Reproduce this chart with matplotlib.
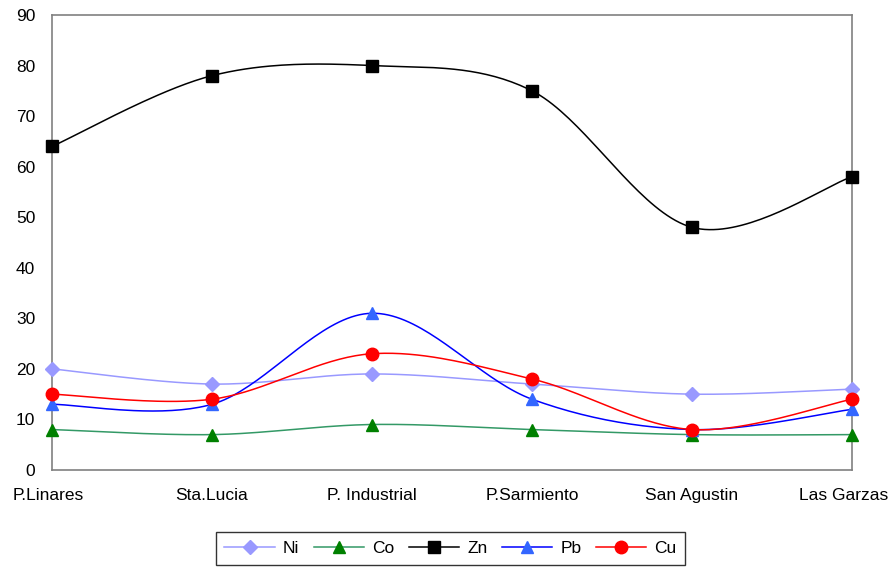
import numpy as np
import matplotlib.pyplot as plt
from matplotlib.transforms import ScaledTranslation

sites = ['P.Linares', 'Sta.Lucia', 'P. Industrial', 'P.Sarmiento', 'San Agustin', 'Las Garzas']
ni = [20, 17, 19, 17, 15, 16]
co = [8, 7, 9, 8, 7, 7]
zn = [64, 78, 80, 75, 48, 58]
pb = [13, 13, 31, 14, 8, 12]
cu = [15, 14, 23, 18, 8, 14]

plt.rcParams['font.family'] = ['Liberation Sans', 'DejaVu Sans']


def smooth(x, y, n=40):
    # excel-like smoothed line: cubic bezier with catmull-rom control points
    x = np.asarray(x, float)
    y = np.asarray(y, float)
    px = np.concatenate([[x[0]], x, [x[-1]]])
    py = np.concatenate([[y[0]], y, [y[-1]]])
    t = np.linspace(0, 1, n)
    xs, ys = [], []
    for i in range(1, len(px) - 2):
        p0 = np.array([px[i], py[i]])
        p3 = np.array([px[i + 1], py[i + 1]])
        c1 = p0 + (p3 - np.array([px[i - 1], py[i - 1]])) / 6
        c2 = p3 - (np.array([px[i + 2], py[i + 2]]) - p0) / 6
        b = ((1 - t) ** 3)[:, None] * p0 + (3 * (1 - t) ** 2 * t)[:, None] * c1 \
            + (3 * (1 - t) * t ** 2)[:, None] * c2 + (t ** 3)[:, None] * p3
        xs.append(b[:, 0])
        ys.append(b[:, 1])
    return np.concatenate(xs), np.concatenate(ys)


fig = plt.figure(figsize=(8.93, 5.67), dpi=100)
ax = fig.add_axes([52 / 893, 97 / 567, 800 / 893, 455 / 567])

x = np.arange(len(sites))
series = [
    ('Ni', ni, '#9999FF', '#9999FF', 'D', 7),
    ('Co', co, '#339966', '#008000', '^', 9),
    ('Zn', zn, '#000000', '#000000', 's', 9),
    ('Pb', pb, '#0000FF', '#3366FF', '^', 9),
    ('Cu', cu, '#FF0000', '#FF0000', 'o', 9),
]
handles = []
for name, vals, lc, mc, mk, ms in series:
    sx, sy = smooth(x, vals)
    ax.plot(sx, sy, color=lc, lw=1.1, clip_on=False)
    ax.plot(x, vals, ls='none', marker=mk, ms=ms, color=mc, clip_on=False, zorder=3)
    h, = ax.plot([], [], color=lc, lw=1.1, marker=mk, ms=ms, markerfacecolor=mc,
                 markeredgecolor=mc, label=name)
    handles.append(h)

ax.set_xlim(0, 5)
ax.set_ylim(0, 90)
ax.set_yticks(range(0, 91, 10))
ax.set_xticks(x)
ax.set_xticklabels(sites)
ax.tick_params(length=0, labelsize=12.5)
ax.tick_params(axis='y', pad=12)
ax.tick_params(axis='x', pad=13)
for s in ax.spines.values():
    s.set_color('#808080')
    s.set_linewidth(1.2)

# keep the last category label inside the figure like excel does
last = ax.get_xticklabels()[-1]
last.set_transform(last.get_transform() + ScaledTranslation(-8 / 100, 0, fig.dpi_scale_trans))
first = ax.get_xticklabels()[0]
first.set_transform(first.get_transform() + ScaledTranslation(-4 / 100, 0, fig.dpi_scale_trans))

leg = fig.legend(handles=handles, loc='center', bbox_to_anchor=(450.5 / 893, 18.5 / 567),
                 ncol=5, fontsize=12.5, frameon=True, fancybox=False, edgecolor='black',
                 handlelength=2.9, handletextpad=0.45, columnspacing=0.85,
                 borderpad=0.5, borderaxespad=0)
leg.get_frame().set_linewidth(1.0)

fig.savefig('out.png', dpi=100)
